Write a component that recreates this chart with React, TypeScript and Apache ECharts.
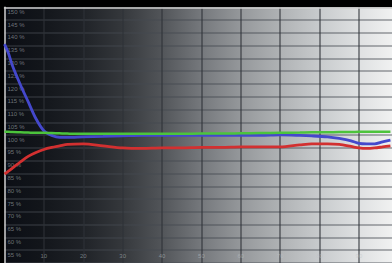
import React, { useEffect, useRef } from "react";
import * as echarts from "echarts";

// Stimulus level (IRE / %) at which the curves were read
const stimulus = [0, 1, 2, 4, 6, 8, 10, 12, 14, 16, 20, 25, 30, 35, 40, 45, 50, 55, 60, 65, 70, 75, 78, 82, 85, 88, 90, 92, 94, 96, 98];

// RGB balance, percent
const blueValues = [135.6, 132.0, 127.2, 119.8, 113.1, 106.4, 101.7, 99.9, 99.1, 99.1, 99.3, 99.5, 99.7, 99.9, 99.9, 99.9, 99.9, 99.9, 99.9, 99.9, 100.1, 99.9, 99.7, 99.3, 98.7, 97.8, 96.8, 96.6, 96.6, 97.4, 98.1];
const greenValues = [101.3, 101.3, 101.2, 101.1, 101.0, 100.9, 100.9, 100.8, 100.7, 100.6, 100.5, 100.5, 100.5, 100.5, 100.5, 100.5, 100.6, 100.6, 100.7, 100.8, 100.9, 101.0, 101.1, 101.1, 101.2, 101.2, 101.3, 101.3, 101.3, 101.3, 101.3];
const redValues = [84.8, 85.9, 87.1, 89.5, 91.7, 93.2, 94.4, 95.2, 95.8, 96.4, 96.6, 95.8, 95.0, 94.8, 95.0, 95.0, 95.2, 95.2, 95.4, 95.4, 95.4, 96.2, 96.6, 96.6, 96.4, 95.6, 95.0, 94.8, 95.0, 95.4, 95.8];

const pairs = (vals: number[]) => stimulus.map((x, i) => [x, vals[i]]);

export default function App() {
  const ref = useRef<HTMLDivElement>(null);
  useEffect(() => {
    if (!ref.current) return;
    const chart = echarts.init(ref.current, undefined, { renderer: "svg" });
    const labelColor = "rgba(190,195,200,0.55)";
    const frame = { show: true, lineStyle: { color: "#cfcfcf", width: 1.5 } };
    chart.setOption({
      animation: false,
      backgroundColor: "#000",
      grid: {
        show: true,
        left: 4.5,
        top: 7.3,
        right: 0,
        bottom: 0,
        borderColor: "transparent",
        borderWidth: 0,
        backgroundColor: new echarts.graphic.LinearGradient(0, 0, 1, 0, [
          { offset: 0, color: "#0b0e15" },
          { offset: 0.09, color: "#12151a" },
          { offset: 0.194, color: "#1e2126" },
          { offset: 0.297, color: "#33363a" },
          { offset: 0.4, color: "#505357" },
          { offset: 0.504, color: "#74777b" },
          { offset: 0.607, color: "#94979a" },
          { offset: 0.711, color: "#afb2b4" },
          { offset: 0.814, color: "#c8cbcd" },
          { offset: 0.917, color: "#dfe1e2" },
          { offset: 1, color: "#f0f1f1" },
        ]),
      },
      xAxis: [
        {
          type: "value",
          min: 0,
          max: 98.4,
          interval: 10,
          axisLine: { show: false },
          axisTick: { show: false },
          axisLabel: {
            inside: true,
            margin: 4,
            fontSize: 6,
            fontFamily: "Liberation Sans",
            color: labelColor,
            showMaxLabel: false,
            formatter: (v: number) => (v === 0 || v > 90 ? "" : String(v)),
          },
          splitLine: {
            show: true,
            showMinLine: false,
            showMaxLine: false,
            lineStyle: { color: "rgba(45,50,55,0.7)", width: 1.5 },
          },
        },
        {
          type: "value",
          position: "top",
          min: 0,
          max: 98.4,
          axisLine: frame,
          axisTick: { show: false },
          axisLabel: { show: false },
          splitLine: { show: false },
        },
      ],
      yAxis: {
        type: "value",
        min: 50,
        max: 150,
        interval: 5,
        axisLine: frame,
        axisTick: { show: false },
        axisLabel: {
          inside: true,
          margin: 3,
          fontSize: 6,
          fontFamily: "Liberation Sans",
          color: labelColor,
          verticalAlign: "top",
          padding: [1.5, 0, 0, 0],
          formatter: (v: number) => (v === 50 ? "" : v + " %"),
        },
        splitLine: {
          show: true,
          showMaxLine: false,
          lineStyle: { color: "rgba(70,75,80,0.55)", width: 1.5 },
        },
      },
      series: [
        {
          type: "line",
          name: "Blue",
          data: pairs(blueValues),
          smooth: 0.3,
          showSymbol: false,
          lineStyle: { color: "#4448cc", width: 2.8 },
        },
        {
          type: "line",
          name: "Red",
          data: pairs(redValues),
          smooth: 0.3,
          showSymbol: false,
          lineStyle: { color: "#d23030", width: 2.8 },
        },
        {
          type: "line",
          name: "Green",
          data: pairs(greenValues),
          smooth: 0.3,
          showSymbol: false,
          lineStyle: { color: "#4cc43c", width: 2.5 },
        },
      ],
    });
    return () => chart.dispose();
  }, []);
  return (
    <div
      ref={ref}
      style={{ position: "fixed", left: 0, top: 0, width: 392, height: 263, background: "#000" }}
    />
  );
}
